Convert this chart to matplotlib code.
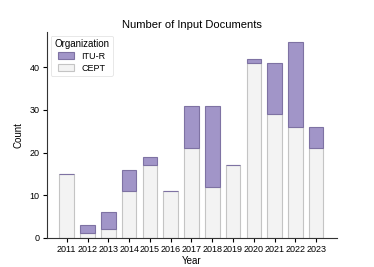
import numpy as np
import matplotlib
matplotlib.use("Agg")
import matplotlib.pyplot as plt

years = [2011, 2012, 2013, 2014, 2015, 2016, 2017, 2018, 2019, 2020, 2021, 2022, 2023]
cept = [15, 1, 2, 11, 17, 11, 21, 12, 17, 41, 29, 26, 21]
itu_r = [0, 2, 4, 5, 2, 0, 10, 19, 0, 1, 12, 20, 5]

plt.rcParams['font.family'] = ['Liberation Sans', 'DejaVu Sans']

fig = plt.figure(figsize=(3.74, 2.67), dpi=100)
ax = fig.add_axes([47 / 374, 1 - 237.7 / 267, 290 / 374, 205.7 / 267])

x = np.array(years)
ax.bar(x, cept, width=0.7, color="#f3f3f3", edgecolor="#c4c4c4", linewidth=0.8, label="CEPT")
ax.bar(x, itu_r, width=0.7, bottom=cept, color="#a195c8", edgecolor="#7e72a3", linewidth=0.8, label="ITU-R")

ax.set_xlim(2010.05, 2024.0)
ax.set_ylim(0, 48.3)
ax.set_xticks(years)
ax.set_xticklabels([str(y) for y in years])
ax.set_yticks([0, 10, 20, 30, 40])
ax.tick_params(labelsize=6.5, length=3, width=0.8, pad=2.5)
ax.spines['top'].set_visible(False)
ax.spines['right'].set_visible(False)
for s in ['left', 'bottom']:
    ax.spines[s].set_linewidth(0.8)
    ax.spines[s].set_color("#333333")

ax.set_xlabel("Year", fontsize=7, labelpad=1)
ax.set_ylabel("Count", fontsize=7, labelpad=4)
ax.set_title("Number of Input Documents", fontsize=8, pad=3)

handles, labels = ax.get_legend_handles_labels()
leg = ax.legend(handles[::-1], labels[::-1], title="Organization", loc="upper left",
                fontsize=6.5, title_fontsize=7, frameon=True, borderpad=0.4,
                handlelength=1.8, handleheight=0.8, labelspacing=0.3, borderaxespad=0.4)
leg.get_frame().set_edgecolor("#dddddd")
leg.get_frame().set_linewidth(0.6)

fig.savefig("out.png", dpi=100)
